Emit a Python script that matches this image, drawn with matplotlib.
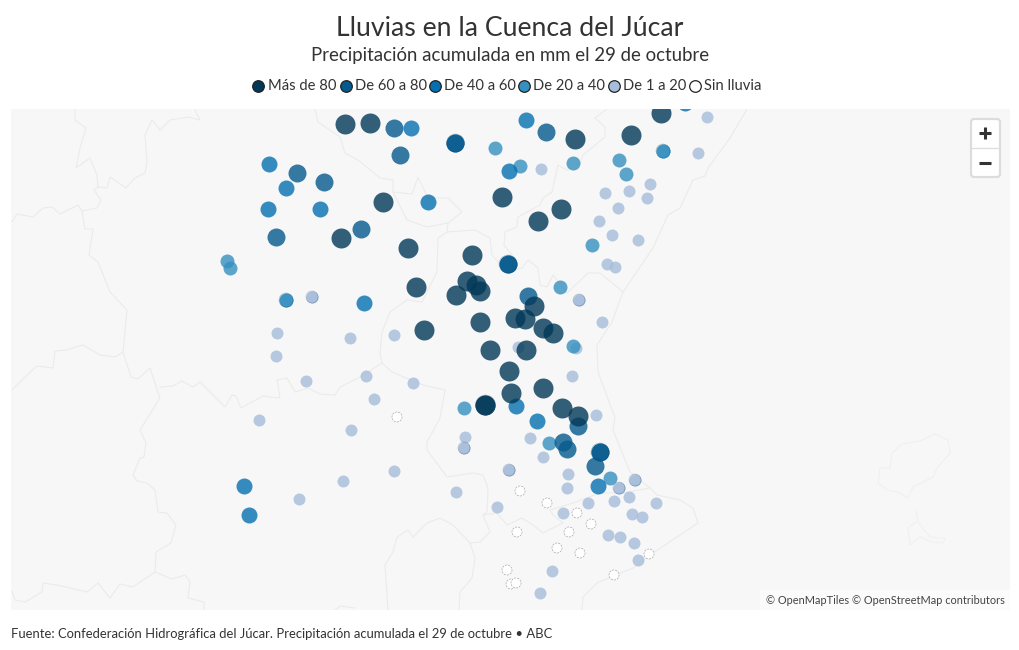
'''
Lluvias en la Cuenca del Jucar
Bubble map, positions read off the reference in image pixels
'''
from collections import Counter
import matplotlib
matplotlib.use('Agg')
import matplotlib.pyplot as plt
from matplotlib.patches import FancyBboxPatch, Rectangle

plt.rcParams['font.family'] = ['Lato', 'DejaVu Sans']

W, H = 1020, 650
TEXT = '#333333'

categories = ['Más de 80', 'De 60 a 80', 'De 40 a 60', 'De 20 a 40', 'De 1 a 20', 'Sin lluvia']
colors = ['#023858', '#045a8d', '#0570b0', '#3690c0', '#a6bddb', '#ffffff']
radius = [10, 9, 8, 7, 6, 5]

mas_80 = [(345, 124), (370, 123), (575, 139), (631, 135), (661, 113), (383, 202), (502, 197),
          (538, 221), (561, 209), (341, 238), (408, 248), (472, 255), (467, 281), (476, 285),
          (480, 291), (456, 295), (416, 287), (424, 330), (480, 322), (515, 318), (525, 319),
          (534, 306), (543, 328), (553, 333), (490, 350), (526, 350), (509, 371), (543, 388),
          (511, 393), (485.5, 405), (485.5, 405), (562, 408), (578, 416)]
de_60 = [(394, 128), (400, 155), (297, 173), (324, 182), (361, 229), (276, 237), (546, 132),
         (528, 296), (578, 426), (563, 442), (567, 449), (595, 466), (455.5, 143), (455.5, 143),
         (508, 264), (508, 264), (600, 452), (600, 452)]
de_40 = [(411, 128), (526, 120), (269, 164), (286, 188), (268, 209), (320, 209), (509, 171),
         (428, 202), (364, 303), (516, 406), (537, 421), (598, 486), (244, 486), (249, 515),
         (685, 103)]
de_20 = [(495, 148), (520, 166), (573, 163), (619, 160), (626, 174), (592, 245), (560, 287),
         (573, 346), (464, 408), (549, 443), (610, 478), (227, 261), (230, 268),
         (663, 151), (663, 151), (286, 300), (286, 300)]
de_1 = [(541, 169), (605, 193), (629, 191), (650, 184), (647, 198), (618, 208), (599, 221),
        (612, 235), (638, 240), (607, 264), (615, 267), (579, 300), (579, 300), (602, 322),
        (350, 338), (394, 335), (518, 347), (576, 348), (707, 117), (698, 153), (572, 376),
        (366, 376), (413, 383), (374, 399), (351, 430), (343, 481), (394, 471), (596, 415),
        (312, 297), (312, 297), (277, 333), (276, 356), (306, 381), (259, 420), (299, 499),
        (465, 437), (464, 448), (464, 448), (509, 470), (509, 470), (456, 492), (497, 507),
        (543, 457), (530, 438), (568, 474), (567, 488), (635, 480), (635, 480), (619, 488),
        (619, 488), (629, 497), (614, 501), (588, 503), (656, 503), (563, 513), (632, 514),
        (642, 517), (608, 535), (620, 537), (634, 543), (638, 560), (552, 571), (540, 593)]
sin_lluvia = [(397, 417), (520, 491), (547, 503), (577, 513), (591, 524), (517, 532), (569, 532),
              (557, 548), (580, 553), (649, 554), (507, 570), (511, 584), (516, 583), (614, 575)]
series = [sin_lluvia, de_1, de_20, de_40, de_60, mas_80]

# borders of the base map
borders = [
    [(75, 109), (75, 120), (86, 128), (80, 148), (76, 168), (90, 158), (97, 175), (98, 187), (107, 188),
     (110, 177), (126, 188), (135, 178), (145, 173), (147, 162), (145, 135), (152, 120), (160, 130),
     (170, 120), (188, 117), (200, 120), (195, 110)],
    [(12, 222), (17, 214), (33, 217), (43, 208), (52, 207), (60, 214), (78, 205), (82, 211), (97, 208),
     (101, 200), (94, 190), (98, 187)],
    [(82, 211), (85, 229), (93, 229), (89, 255), (98, 262), (110, 292), (127, 310), (123, 352), (131, 377),
     (138, 379), (150, 368), (160, 398), (140, 430), (146, 443), (144, 457), (140, 458), (133, 475),
     (137, 481), (147, 483), (155, 490), (158, 512), (167, 513), (176, 525), (171, 543), (156, 552),
     (155, 572), (133, 587), (120, 584), (110, 598), (98, 583), (87, 592), (57, 585), (43, 583), (42, 592),
     (25, 602), (15, 600), (12, 591)],
    [(155, 572), (172, 579), (185, 575), (190, 582), (188, 598), (204, 602), (204, 610)],
    [(12, 390), (25, 377), (37, 366), (53, 368), (55, 351), (67, 350), (83, 345), (100, 355), (115, 357),
     (123, 352)],
    [(160, 387), (173, 386), (182, 381), (193, 387), (200, 382), (225, 407), (232, 395), (236, 396),
     (241, 408), (263, 396), (280, 398), (277, 380), (287, 378), (295, 392), (308, 388), (320, 394),
     (335, 395), (340, 387), (360, 377), (382, 363), (392, 372), (423, 385), (445, 390), (440, 418),
     (427, 442), (427, 450), (447, 477), (473, 473), (483, 475), (488, 488), (487, 512), (483, 515),
     (490, 532), (480, 542), (470, 543), (453, 525), (440, 518), (427, 523), (413, 537), (408, 530),
     (397, 537), (393, 552), (385, 565), (388, 610)],
    [(470, 543), (475, 558), (472, 578), (460, 592), (459, 610)],
    [(483, 515), (497, 513), (507, 525), (522, 518), (533, 525), (543, 533), (563, 523), (553, 515),
     (550, 510), (573, 503), (600, 493), (623, 493), (650, 488), (657, 495), (680, 500), (693, 508),
     (698, 523), (680, 535), (665, 545), (650, 555), (633, 568), (597, 583), (583, 597), (582, 610)],
    [(382, 363), (380, 353), (382, 332), (390, 312), (407, 300), (422, 302), (437, 272), (438, 238),
     (447, 232), (475, 230), (490, 238), (492, 255), (498, 262), (513, 270), (522, 268), (528, 260),
     (538, 268), (540, 285), (547, 287), (553, 275), (567, 293), (588, 273), (600, 273), (623, 292),
     (612, 322), (597, 345), (598, 372), (615, 418), (613, 430), (630, 472), (650, 488)],
    [(623, 292), (653, 248), (668, 215), (680, 208), (693, 180), (705, 176), (708, 168), (730, 138),
     (747, 109)],
    [(447, 232), (448, 223), (462, 212), (448, 198), (428, 198), (418, 177), (412, 194), (393, 192),
     (398, 202), (407, 220), (427, 227), (448, 223)],
    [(393, 192), (393, 180), (380, 178), (358, 160), (345, 153), (340, 137), (318, 122), (315, 109)],
    [(607, 109), (595, 118), (605, 127), (605, 137), (583, 155), (580, 163), (567, 170), (558, 165),
     (552, 192), (543, 198), (540, 205), (518, 217), (517, 227), (505, 232), (504, 245), (512, 255),
     (513, 270)],
    [(335, 610), (340, 606), (355, 608)],
]
# Ibiza and Formentera are fainter
islands = [
    [(935, 434), (948, 440), (950, 453), (937, 468), (933, 477), (913, 487), (908, 498), (898, 492),
     (887, 490), (878, 483), (880, 468), (890, 468), (892, 453), (902, 444), (920, 441), (935, 434)],
    [(916, 510), (918, 522), (930, 537), (938, 538), (945, 538), (943, 543), (932, 542), (920, 537),
     (910, 545), (908, 528), (916, 522)],
]

fig = plt.figure(figsize=(W / 100, H / 100), dpi=100, facecolor='white')


def px_box(x0, y0, x1, y1):
    return [x0 / W, 1 - y1 / H, (x1 - x0) / W, (y1 - y0) / H]


def marker_size(r):
    return (2 * r * 0.72) ** 2


# map panel, axes units are image pixels
ax = fig.add_axes(px_box(11, 109, 1010, 610))
ax.set_xlim(11, 1010)
ax.set_ylim(610, 109)
ax.set_facecolor('#f7f7f7')
ax.set_xticks([])
ax.set_yticks([])
for s in ax.spines.values():
    s.set_visible(False)

for line in borders:
    ax.plot([p[0] for p in line], [p[1] for p in line], color='#ebebeb', lw=0.8, zorder=1)
for line in islands:
    ax.plot([p[0] for p in line], [p[1] for p in line], color='#f0f0f0', lw=0.8, zorder=1)

for i, pts in enumerate(series):
    k = len(categories) - 1 - i
    xs = [p[0] for p in pts]
    ys = [p[1] for p in pts]
    if categories[k] == 'Sin lluvia':
        ax.scatter(xs, ys, s=marker_size(radius[k]), c=colors[k], edgecolors='#aaaaaa',
                   linewidths=0.5, linestyle=(0, (3, 1.5)), zorder=2 + i)
    else:
        ax.scatter(xs, ys, s=marker_size(radius[k]), c=colors[k], alpha=0.8, linewidths=0,
                   zorder=2 + i, snap=False)
        # stations that came twice show a thin dark rim
        twice = [p for p, n in Counter(pts).items() if n > 1]
        if twice:
            ax.scatter([p[0] for p in twice], [p[1] for p in twice], s=marker_size(radius[k]),
                       facecolors='none', edgecolors='#1f3f5f', linewidths=0.3, alpha=0.5,
                       zorder=2 + i, snap=False)

# attribution box
ax.add_patch(Rectangle((760, 590), 250, 20, fc='white', ec='none', alpha=0.5, zorder=20))
ax.text(1005, 600.5, '© OpenMapTiles © OpenStreetMap contributors', ha='right', va='center',
        fontsize=7.95, color='#444444', zorder=21)

# zoom buttons
ax.add_patch(FancyBboxPatch((971, 119), 29, 58, boxstyle='round,pad=0,rounding_size=3',
                            fc='white', ec='#dcdcdc', lw=1.6, zorder=22))
ax.plot([971, 1000], [148, 148], color='#dddddd', lw=0.9, zorder=23)
ax.plot([979.5, 991.5], [133.5, 133.5], color='#333333', lw=2.2, solid_capstyle='butt', zorder=23)
ax.plot([985.5, 985.5], [127.5, 139.5], color='#333333', lw=2.2, solid_capstyle='butt', zorder=23)
ax.plot([979.5, 991.5], [163, 163], color='#333333', lw=2.2, solid_capstyle='butt', zorder=23)

fig.text(510 / W, 1 - 29 / H, 'Lluvias en la Cuenca del Júcar', ha='center', va='center',
         fontsize=19.2, color=TEXT)
fig.text(510 / W, 1 - 56 / H, 'Precipitación acumulada en mm el 29 de octubre', ha='center',
         va='center', fontsize=13.4, color=TEXT)
fig.text(11 / W, 1 - 633.5 / H,
         'Fuente: Confederación Hidrográfica del Júcar. Precipitación acumulada el 29 de octubre • ABC',
         ha='left', va='center', fontsize=9.4, color=TEXT)

# legend
leg = fig.add_axes([0, 0, 1, 1], facecolor='none')
leg.set_xlim(0, W)
leg.set_ylim(H, 0)
leg.axis('off')
legend_x = [258.5, 346, 435, 524, 614, 695]
for x, name, c in zip(legend_x, categories, colors):
    leg.scatter([x], [85.5], s=marker_size(5.8), c=c, edgecolors='#222222', linewidths=0.9, snap=False)
    leg.text(x + 9.5, 86, name, ha='left', va='center', fontsize=10.6, color=TEXT)

plt.savefig('out.png', dpi=100)
